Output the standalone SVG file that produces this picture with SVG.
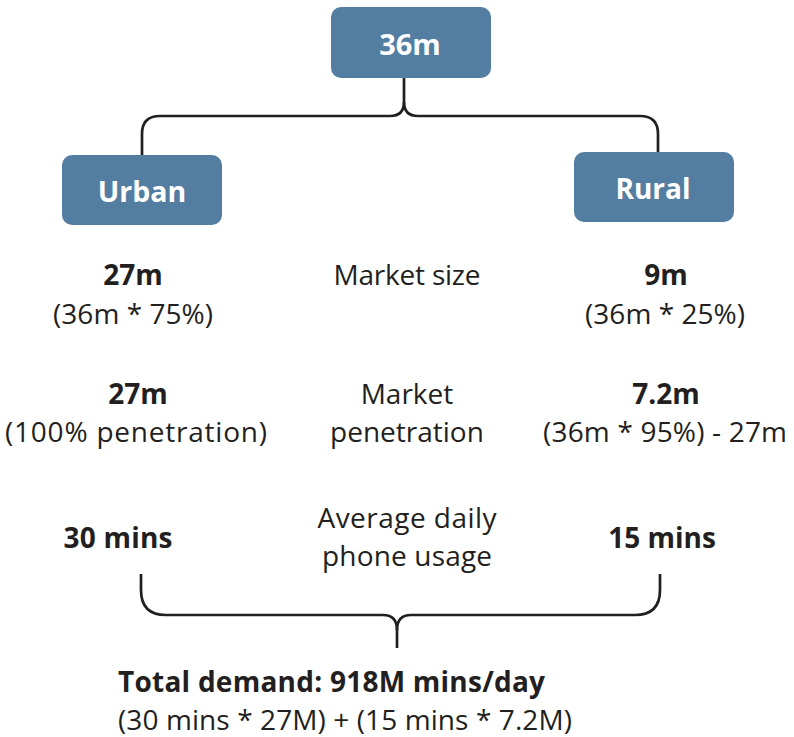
<svg xmlns="http://www.w3.org/2000/svg" width="794" height="737" viewBox="0 0 794 737">
<style>
.box{fill:#537ea1}
.bt{font-family:"Open Sans","Noto Sans",sans-serif;font-weight:bold;fill:#ffffff;text-anchor:middle}
.t{font-family:"Open Sans","Noto Sans",sans-serif;font-size:28px;fill:#231f20;text-anchor:middle}
.b{font-weight:bold}
.ln{fill:none;stroke:#231f20;stroke-width:2.7}
</style>
<rect width="794" height="737" fill="#ffffff"/>
<g id="connectors">
<path class="ln" d="M404,78 V102 Q404,116 390,116 H160 Q142,116 142,134 V155"/>
<path class="ln" d="M404,102 Q404,116 418,116 H640 Q658,116 658,134 V152"/>
<path class="ln" d="M141,574 V590 Q141,615 166,615 H383 Q397,615 397,630 V648"/>
<path class="ln" d="M660,574 V590 Q660,615 635,615 H411 Q397,615 397,630"/>
</g>
<g id="node-36m">
<rect class="box" x="331" y="7" width="160" height="71" rx="10"/>
<text class="bt" x="410" y="55" font-size="29">36m</text>
</g>
<g id="node-urban">
<rect class="box" x="62" y="155" width="160" height="70" rx="10"/>
<text class="bt" x="142" y="202" font-size="28.5">Urban</text>
</g>
<g id="node-rural">
<rect class="box" x="574" y="152" width="160" height="70" rx="10"/>
<text class="bt" x="653" y="199" font-size="28">Rural</text>
</g>
<g id="urban-size">
<text class="t b" x="133" y="285">27m</text>
<text class="t" x="133" y="324" textLength="160">(36m * 75%)</text>
</g>
<g id="label-size">
<text class="t" x="407" y="285" textLength="147">Market size</text>
</g>
<g id="rural-size">
<text class="t b" x="666" y="285">9m</text>
<text class="t" x="665" y="324" textLength="160">(36m * 25%)</text>
</g>
<g id="urban-pen">
<text class="t b" x="138" y="404">27m</text>
<text class="t" x="136" y="442" textLength="262">(100% penetration)</text>
</g>
<g id="label-pen">
<text class="t" x="407" y="404">Market</text>
<text class="t" x="407" y="442">penetration</text>
</g>
<g id="rural-pen">
<text class="t b" x="666" y="404">7.2m</text>
<text class="t" x="665" y="442" textLength="244">(36m * 95%) - 27m</text>
</g>
<g id="urban-usage">
<text class="t b" x="118" y="548" textLength="109">30 mins</text>
</g>
<g id="label-usage">
<text class="t" x="407" y="528" textLength="179">Average daily</text>
<text class="t" x="407" y="566" textLength="170">phone usage</text>
</g>
<g id="rural-usage">
<text class="t b" x="662" y="548">15 mins</text>
</g>
<g id="total">
<text class="t b" x="118" y="692" style="text-anchor:start" textLength="427">Total demand: 918M mins/day</text>
<text class="t" x="118" y="730" style="text-anchor:start" textLength="454">(30 mins * 27M) + (15 mins * 7.2M)</text>
</g>
</svg>
